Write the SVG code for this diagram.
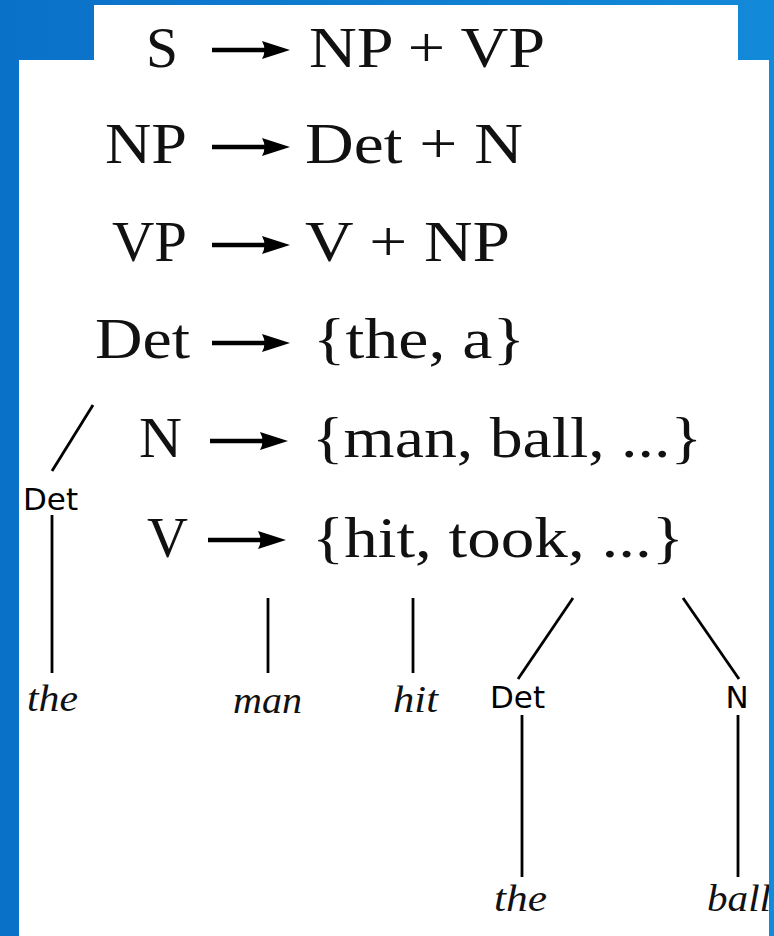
<svg xmlns="http://www.w3.org/2000/svg" width="774" height="936" viewBox="0 0 774 936">
<defs>
<linearGradient id="bg" x1="0" y1="0" x2="1" y2="0">
<stop offset="0" stop-color="#0a71c8"/>
<stop offset="1" stop-color="#1389d9"/>
</linearGradient>
<path id="arr" d="M0 -2.2 L54 -2.2 L54 2.2 L0 2.2 Z M50 -9 L78 0 L50 9 Q55 0 50 -9 Z" fill="#000"/>
</defs>
<style>
.r{font-family:"Liberation Serif","Times New Roman",serif;font-size:58px;fill:#111}
.l{font-family:"Liberation Serif","Times New Roman",serif;font-style:italic;font-size:38px;fill:#111}
.c{font-family:"DejaVu Sans","Verdana",sans-serif;font-size:31px;fill:#000;text-anchor:middle}
.e{stroke:#000;stroke-width:2.8;fill:none}
</style>
<rect width="774" height="936" fill="url(#bg)"/>
<rect x="94" y="5" width="644" height="60" fill="#fff"/>
<rect x="19" y="60" width="750" height="876" fill="#fff"/>

<g id="rules">
<g id="rule-s">
<text class="r" x="146" y="67" textLength="32" lengthAdjust="spacingAndGlyphs">S</text>
<use href="#arr" x="212" y="50"/>
<text class="r" x="309" y="67" textLength="236" lengthAdjust="spacingAndGlyphs">NP + VP</text>
</g>
<g id="rule-np">
<text class="r" x="105" y="163" textLength="82" lengthAdjust="spacingAndGlyphs">NP</text>
<use href="#arr" x="212" y="147"/>
<text class="r" x="305" y="163" textLength="218" lengthAdjust="spacingAndGlyphs">Det + N</text>
</g>
<g id="rule-vp">
<text class="r" x="112" y="261" textLength="75" lengthAdjust="spacingAndGlyphs">VP</text>
<use href="#arr" x="212" y="245"/>
<text class="r" x="305" y="261" textLength="205" lengthAdjust="spacingAndGlyphs">V + NP</text>
</g>
<g id="rule-det">
<text class="r" x="95" y="358" textLength="95" lengthAdjust="spacingAndGlyphs">Det</text>
<use href="#arr" x="212" y="343"/>
<text class="r" x="313" y="358" textLength="212" lengthAdjust="spacingAndGlyphs">{the, a}</text>
</g>
<g id="rule-n">
<text class="r" x="139" y="457" textLength="43" lengthAdjust="spacingAndGlyphs">N</text>
<use href="#arr" x="210" y="441"/>
<text class="r" x="312" y="457" textLength="390" lengthAdjust="spacingAndGlyphs">{man, ball, ...}</text>
</g>
<g id="rule-v">
<text class="r" x="147" y="557" textLength="41" lengthAdjust="spacingAndGlyphs">V</text>
<use href="#arr" x="208" y="540"/>
<text class="r" x="312" y="557" textLength="372" lengthAdjust="spacingAndGlyphs">{hit, took, ...}</text>
</g>
</g>

<g id="connectors">
<line class="e" x1="93" y1="405" x2="52" y2="471"/>
<line class="e" x1="52" y1="515" x2="52" y2="673"/>
<line class="e" x1="268" y1="598" x2="268" y2="673"/>
<line class="e" x1="413" y1="598" x2="413" y2="673"/>
<line class="e" x1="573" y1="598" x2="518" y2="679"/>
<line class="e" x1="522" y1="715" x2="522" y2="877"/>
<line class="e" x1="683" y1="598" x2="739" y2="679"/>
<line class="e" x1="738" y1="715" x2="738" y2="877"/>
</g>

<g id="det1"><text class="c" x="50.5" y="510">Det</text></g>
<g id="the1"><text class="l" x="27" y="711" textLength="51" lengthAdjust="spacingAndGlyphs">the</text></g>
<g id="man"><text class="l" x="233" y="713" textLength="69" lengthAdjust="spacingAndGlyphs">man</text></g>
<g id="hit"><text class="l" x="393" y="712" textLength="45" lengthAdjust="spacingAndGlyphs">hit</text></g>
<g id="det2"><text class="c" x="517.5" y="708">Det</text></g>
<g id="n2"><text class="c" x="737" y="708">N</text></g>
<g id="the2"><text class="l" x="494" y="911" textLength="53" lengthAdjust="spacingAndGlyphs">the</text></g>
<g id="ball"><text class="l" x="707" y="911" textLength="64" lengthAdjust="spacingAndGlyphs">ball</text></g>

<rect x="769" y="60" width="5" height="876" fill="#1389d9"/>
</svg>
